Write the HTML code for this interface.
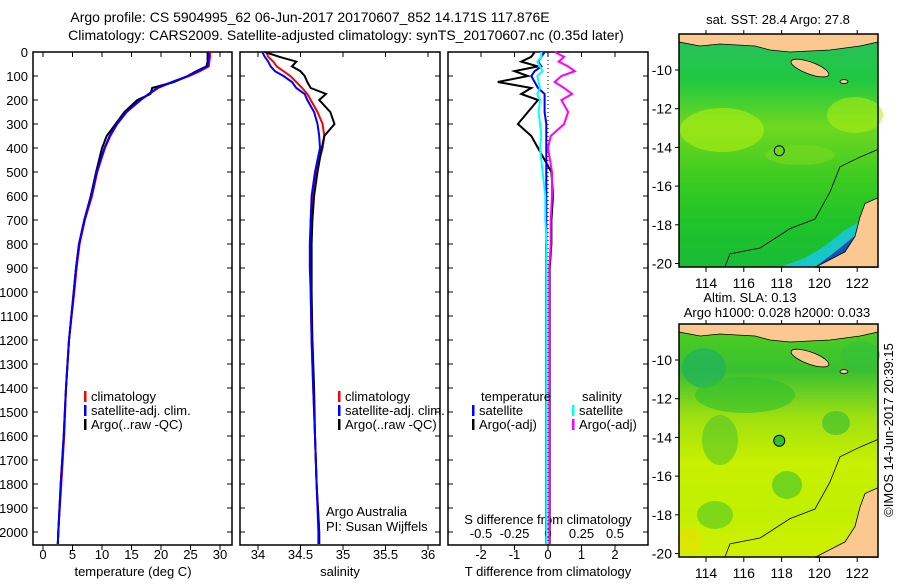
<!DOCTYPE html>
<html><head><meta charset="utf-8"><style>
body{margin:0;background:#fff}
svg{font-family:"Liberation Sans",sans-serif}
</style></head><body>
<svg id="c" width="900" height="580" viewBox="0 0 900 580" xmlns="http://www.w3.org/2000/svg">
<text x="310" y="22" font-size="14" text-anchor="middle">Argo profile: CS 5904995_62 06-Jun-2017 20170607_852 14.171S 117.876E</text>
<text x="346" y="40" font-size="14" text-anchor="middle">Climatology: CARS2009. Satellite-adjusted climatology: synTS_20170607.nc (0.35d later)</text>
<g id="g"></g>
</svg>
<script>
// ---- data ----
const depths = [0,20,40,60,80,100,125,150,175,200,250,300,350,400,500,600,700,800,900,1000,1200,1400,1600,1800,2000,2050];
const tempClim = [28.3,28.3,28.2,28.1,26.6,24.8,22.0,19.5,18.0,16.6,14.2,12.6,11.4,10.5,9.2,8.3,7.1,6.2,5.7,5.3,4.4,3.9,3.6,3.1,2.6,2.5];
const tempSat  = [28.1,28.1,28.0,27.9,26.3,24.6,21.8,19.4,17.9,16.5,14.1,12.5,11.3,10.4,9.1,8.2,7.0,6.1,5.6,5.2,4.4,3.9,3.5,3.0,2.6,2.5];
const tempArgo = [27.9,27.9,27.9,27.7,26.0,24.5,22.2,18.5,18.2,16.0,13.8,12.3,10.8,10.0,9.0,8.1,7.0,6.1,5.6,5.2,4.4,3.9,3.5,3.0,2.6,2.5];
const salClim = [34.10,34.12,34.18,34.22,34.30,34.38,34.45,34.52,34.58,34.62,34.70,34.76,34.78,34.76,34.68,34.64,34.62,34.62,34.62,34.62,34.63,34.65,34.67,34.69,34.72,34.72];
const salSat  = [34.05,34.08,34.12,34.15,34.20,34.30,34.40,34.45,34.55,34.58,34.66,34.70,34.72,34.73,34.67,34.63,34.62,34.61,34.61,34.62,34.63,34.65,34.67,34.69,34.71,34.71];
const salArgo = [34.08,34.25,34.45,34.40,34.50,34.55,34.58,34.62,34.80,34.72,34.85,34.90,34.78,34.75,34.70,34.66,34.64,34.63,34.63,34.63,34.64,34.66,34.67,34.69,34.72,34.72];
const tDiffSat  = [-0.1,-0.2,-0.3,-0.2,-0.4,-0.5,-0.4,-0.3,-0.1,-0.1,-0.1,-0.05,-0.05,-0.05,-0.05,-0.05,-0.05,-0.05,-0.05,-0.05,-0.05,-0.05,-0.05,-0.05,-0.05,-0.05];
const tDiffArgo = [-0.4,-0.5,-0.8,-0.3,-1.0,-0.6,-1.5,-0.5,-0.8,-0.3,-0.6,-0.9,-0.5,-0.3,0.1,0.15,0.1,0.1,0.05,0.05,0.05,0.05,0.05,0.05,0.05,0.05];
const sDiffSat  = [-0.05,-0.05,-0.08,-0.06,-0.04,-0.08,-0.07,-0.06,-0.08,-0.06,-0.07,-0.06,-0.05,-0.06,-0.04,-0.02,-0.02,-0.01,-0.01,-0.01,-0.01,-0.01,-0.01,-0.01,-0.01,-0.01];
const sDiffArgo = [0.05,0.12,0.08,0.15,0.20,0.10,0.05,0.12,0.18,0.10,0.15,0.12,0.02,0.0,0.03,0.03,0.02,0.02,0.01,0.01,0.01,0.01,0.01,0.01,0.01,0.01];
const depthTicks = [0,100,200,300,400,500,600,700,800,900,1000,1100,1200,1300,1400,1500,1600,1700,1800,1900,2000];
const tempTicks = [0,5,10,15,20,25,30];
const salTicks = [34,34.5,35,35.5,36];
const salTickLabels = ["34","34.5","35","35.5","36"];
const tdTicks = [-2,-1,0,1,2];
const sdTicks = [-0.5,-0.25,0,0.25,0.5];
const sdTickLabels = ["-0.5","-0.25","0","0.25","0.5"];
const lonTicks = [114,116,118,120,122];
const latTicks = [-10,-12,-14,-16,-18,-20];

// ---- helpers ----
const NS="http://www.w3.org/2000/svg", G=document.getElementById('g');
function mk(tag,at,parent){const e=document.createElementNS(NS,tag);for(const k in at)e.setAttribute(k,at[k]);(parent||G).appendChild(e);return e;}
const pTop=52, pBot=545;
const yD = d => pTop + d*0.24;
const xT = t => 43 + t*5.9;
const xS = s => 258 + (s-34)*85;
const xTD = v => 548 + v*33.5;
const xSD = v => 548 + v*134;
function frame(x0,x1,name){const r=mk('rect',{x:x0,y:pTop,width:x1-x0,height:pBot-pTop,fill:'none',stroke:'#000','stroke-width':1.5});

}
function line(xs,ys,fx,col,w,name){const p=mk('polyline',{points:xs.map((v,i)=>fx(v).toFixed(1)+','+yD(ys[i]).toFixed(1)).join(' '),fill:'none',stroke:col,'stroke-width':w});

}
function txt(x,y,s,anchor,name,size){const t=mk('text',{x:x,y:y,'font-size':size||13,'text-anchor':anchor||'start'});t.textContent=s;


return t;}
function xticks(x0,x1,vals,labels,fx,labY,name){vals.forEach((v,i)=>{const x=fx(v);mk('line',{x1:x,x2:x,y1:pBot,y2:pBot+5,stroke:'#000'});mk('line',{x1:x,x2:x,y1:pTop,y2:pTop+5,stroke:'#000'});
txt(x,labY,labels[i],'middle',name+'-tick-label');});}
function yticks(x0,x1,labels){depthTicks.forEach(d=>{const y=yD(d);mk('line',{x1:x0,x2:x0+5,y1:y,y2:y,stroke:'#000'});mk('line',{x1:x1-5,x2:x1,y1:y,y2:y,stroke:'#000'});
if(labels)txt(28,y+5,String(d),'end','depth-tick-label');});}
function legend(x,y,col,label,name){mk('rect',{x:x,y:y-10,width:2.5,height:11,fill:col});txt(x+7,y,label,'start',name,13);}

// panel 1
frame(33,232,'temperature-panel');
yticks(33,232,true);
xticks(33,232,tempTicks,tempTicks.map(String),xT,559,'temperature');
txt(133,576,'temperature (deg C)','middle','temperature-axis-title');
line(tempClim,depths,xT,'#f00',2,'temperature-climatology-line');
line(tempArgo,depths,xT,'#000',2,'temperature-argo-line');
line(tempSat,depths,xT,'#00f',2,'temperature-satellite-line');
legend(84,401,'#f00','climatology','legend-climatology');
legend(84,415,'#00f','satellite-adj. clim.','legend-satellite');
legend(84,429,'#000','Argo(..raw -QC)','legend-argo');

// panel 2
frame(240,440,'salinity-panel');
yticks(240,440,false);
xticks(240,440,salTicks,salTickLabels,xS,559,'salinity');
txt(340,576,'salinity','middle','salinity-axis-title');
line(salClim,depths,xS,'#f00',2,'salinity-climatology-line');
line(salArgo,depths,xS,'#000',2,'salinity-argo-line');
line(salSat,depths,xS,'#00f',2,'salinity-satellite-line');
legend(338,401,'#f00','climatology','legend-sal-climatology');
legend(338,415,'#00f','satellite-adj. clim.','legend-sal-satellite');
legend(338,429,'#000','Argo(..raw -QC)','legend-sal-argo');
txt(326,516,'Argo Australia','start','argo-australia-label');
txt(326,531,'PI: Susan Wijffels','start','pi-label');

// panel 3
frame(448,648,'difference-panel');
yticks(448,648,false);
xticks(448,648,tdTicks,tdTicks.map(String),xTD,559,'t-diff');
txt(548,576,'T difference from climatology','middle','t-diff-axis-title');
sdTicks.forEach((v,i)=>txt(xSD(v),538,sdTickLabels[i],'middle','s-diff-tick-label'));
txt(548,524,'S difference from climatology','middle','s-diff-axis-title');
mk('line',{x1:548,x2:548,y1:pTop,y2:pBot,stroke:'#000','stroke-dasharray':'1,3'});
line(tDiffArgo,depths,xTD,'#000',2,'t-diff-argo-line');
line(tDiffSat,depths,xTD,'#00f',2,'t-diff-satellite-line');
line(sDiffArgo,depths,xSD,'#f0f',2,'s-diff-argo-line');
line(sDiffSat,depths,xSD,'#0ff',2,'s-diff-satellite-line');
txt(481,401,'temperature','start','legend-temperature-header');
txt(582,401,'salinity','start','legend-salinity-header');
legend(472,415,'#00f','satellite','legend-t-satellite');
legend(472,429,'#000','Argo(-adj)','legend-t-argo');
legend(572,415,'#0ff','satellite','legend-s-satellite');
legend(572,429,'#f0f','Argo(-adj)','legend-s-argo');

// maps
const mx0=679,mx1=878;
const xL = l => 706 + (l-114)*18.9;
function map(y0,base,name){
  const yL = la => y0 + 36 + (-10-la)*19.35;
  const gid='gr'+name;
  const d=mk('defs',{});const lg=mk('linearGradient',{id:gid,x1:0,y1:0,x2:0,y2:1},d);
  base.forEach((c,i)=>mk('stop',{offset:i/(base.length-1),'stop-color':c},lg));
  const r=mk('rect',{x:mx0,y:y0,width:mx1-mx0,height:233,fill:'url(#'+gid+')'});
  
  
  return yL;
}
function landAndFrame(y0,yL,name){
  mk('path',{d:`M${mx0} ${y0} L${mx1} ${y0} L${mx1} ${y0+8} L860 ${y0+12} L830 ${y0+16} L790 ${y0+18} L770 ${y0+16} L755 ${y0+12} L720 ${y0+10} L700 ${y0+12} L${mx0} ${y0+8} Z`,fill:'#fbc990',stroke:'#000','stroke-width':0.8});
  mk('ellipse',{cx:xL(119.5),cy:yL(-9.9),rx:20,ry:6,transform:`rotate(20 ${xL(119.5)} ${yL(-9.9)})`,fill:'#fbc990',stroke:'#000','stroke-width':0.8});
  mk('ellipse',{cx:xL(121.3),cy:yL(-10.6),rx:4,ry:2,fill:'#fbc990',stroke:'#000','stroke-width':0.8});
  mk('path',{d:`M${mx1} ${yL(-16.6)} L865 ${yL(-16.9)} L860 ${yL(-17.6)} L855 ${yL(-18.6)} L845 ${yL(-19.4)} L830 ${yL(-19.8)} L815 ${yL(-20.2)} L${mx1} ${yL(-20.2)} Z`,fill:'#fbc990',stroke:'#000','stroke-width':0.8});
  mk('polyline',{points:`${xL(115)},${y0+233} 730,${yL(-19.5)} 760,${yL(-19.2)} 790,${yL(-18.2)} 815,${yL(-17.7)} 830,${yL(-16.3)} 840,${yL(-15.0)} 860,${yL(-14.5)} ${mx1},${yL(-14.1)}`,fill:'none',stroke:'#000','stroke-width':0.8});
  const f=mk('rect',{x:mx0,y:y0,width:mx1-mx0,height:233,fill:'none',stroke:'#000','stroke-width':1.5});
  
  
  lonTicks.forEach(l=>{mk('line',{x1:xL(l),x2:xL(l),y1:y0+233,y2:y0+238,stroke:'#000'});mk('line',{x1:xL(l),x2:xL(l),y1:y0,y2:y0-4,stroke:'#000'});txt(xL(l),y0+254,String(l),'middle',name+'-lon-label',14);});
  latTicks.forEach(la=>{mk('line',{x1:mx0,x2:mx0-4,y1:yL(la),y2:yL(la),stroke:'#000'});txt(672,yL(la)+5,String(la),'end',name+'-lat-label',14);});
}
const yL1=map(34,['#28c060','#20c840','#70d820','#40cc20','#20c428','#18bc38'],'sst-map');
mk('ellipse',{cx:722,cy:130,rx:42,ry:22,fill:'#b0ee10',opacity:0.6});
mk('ellipse',{cx:855,cy:115,rx:28,ry:18,fill:'#b0ee10',opacity:0.55});
mk('ellipse',{cx:800,cy:155,rx:35,ry:10,fill:'#80dc20',opacity:0.5});
mk('path',{d:`M800 267 L820 258 L838 245 L852 228 L${mx1} 214 L${mx1} 267 Z`,fill:'#1040c8',opacity:0.85});
mk('path',{d:`M780 267 L805 258 L825 246 L845 230 L${mx1} 212 L${mx1} 220 L852 238 L835 252 L815 267Z`,fill:'#18c8c8'});
mk('circle',{cx:xL(117.876),cy:yL1(-14.171),r:5,fill:'none',stroke:'#000'});
landAndFrame(34,yL1,'sst-map');
txt(778,24,'sat. SST: 28.4 Argo: 27.8','middle','sst-map-title',13);

const yL2=map(324,['#50d020','#38c030','#a0e010','#c8f000','#c0f000','#d0f000'],'sla-map');
mk('ellipse',{cx:704,cy:368,rx:22,ry:20,fill:'#20b060',opacity:0.7});
mk('ellipse',{cx:745,cy:395,rx:50,ry:18,fill:'#30c030',opacity:0.6});
mk('ellipse',{cx:720,cy:440,rx:18,ry:25,fill:'#40c030',opacity:0.5});
mk('ellipse',{cx:860,cy:355,rx:20,ry:14,fill:'#30c040',opacity:0.5});
mk('ellipse',{cx:836,cy:423,rx:14,ry:12,fill:'#40c030',opacity:0.7});
mk('ellipse',{cx:787,cy:485,rx:15,ry:14,fill:'#50c828',opacity:0.7});
mk('ellipse',{cx:715,cy:515,rx:18,ry:14,fill:'#50c828',opacity:0.6});
mk('ellipse',{cx:690,cy:540,rx:12,ry:14,fill:'#e8e000',opacity:0.6});
mk('circle',{cx:xL(117.876),cy:yL2(-14.171),r:5.5,fill:'#30c030',stroke:'#000'});
landAndFrame(324,yL2,'sla-map');
txt(750,302,'Altim. SLA: 0.13','middle','sla-map-title-1',13);
txt(777,317,'Argo h1000: 0.028 h2000: 0.033','middle','sla-map-title-2',13);
const cr=txt(0,0,'©IMOS 14-Jun-2017 20:39:15','middle','imos-credit',13);
cr.setAttribute('transform','translate(893,430) rotate(-90)');
</script>
</body></html>
